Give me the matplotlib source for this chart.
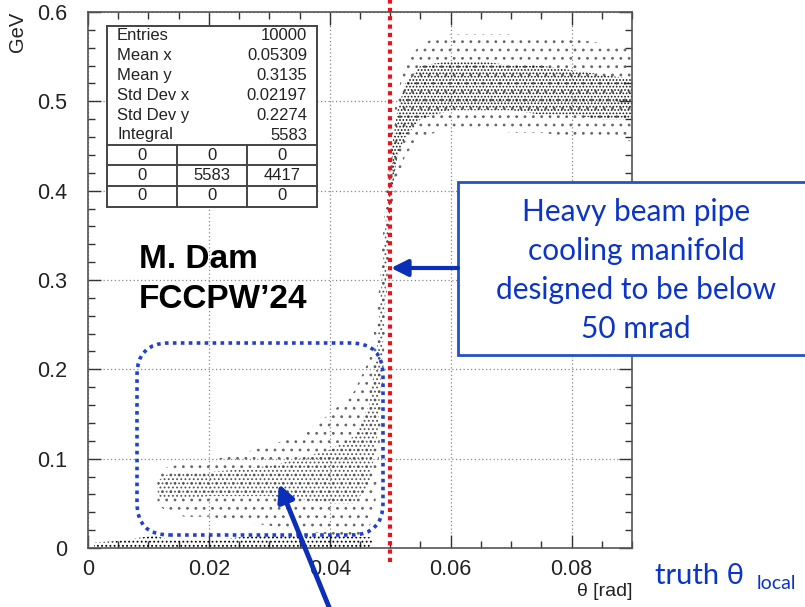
import numpy as np
import matplotlib.pyplot as plt
from matplotlib.patches import FancyBboxPatch, Rectangle, FancyArrowPatch
from matplotlib.ticker import MultipleLocator

plt.rcParams['font.family'] = ['Liberation Sans', 'DejaVu Sans']
plt.rcParams['hatch.linewidth'] = 0.8

# energy vs theta band, read as envelopes (outer spread and dense core)
band_x = [0.0115, 0.013, 0.016, 0.020, 0.025, 0.030, 0.035, 0.040, 0.044, 0.0465,
          0.0478, 0.0486, 0.0492, 0.0497, 0.0503, 0.0512, 0.0525, 0.055, 0.060,
          0.065, 0.070, 0.075, 0.080, 0.085, 0.090]
outer_lo = [0.050, 0.040, 0.035, 0.035, 0.030, 0.025, 0.020, 0.015, 0.012, 0.020,
            0.060, 0.160, 0.250, 0.320, 0.380, 0.410, 0.440, 0.460, 0.470,
            0.470, 0.465, 0.465, 0.460, 0.460, 0.455]
core_lo = [0.058, 0.055, 0.055, 0.058, 0.058, 0.058, 0.055, 0.050, 0.050, 0.070,
           0.120, 0.200, 0.280, 0.350, 0.400, 0.440, 0.460, 0.480, 0.490,
           0.490, 0.490, 0.485, 0.485, 0.480, 0.480]
core_hi = [0.075, 0.082, 0.085, 0.085, 0.088, 0.092, 0.100, 0.110, 0.125, 0.160,
           0.220, 0.300, 0.360, 0.410, 0.450, 0.490, 0.520, 0.540, 0.545,
           0.545, 0.540, 0.540, 0.535, 0.530, 0.525]
outer_hi = [0.082, 0.090, 0.095, 0.098, 0.105, 0.115, 0.125, 0.150, 0.175, 0.210,
            0.260, 0.330, 0.390, 0.430, 0.470, 0.510, 0.540, 0.565, 0.575,
            0.575, 0.575, 0.570, 0.570, 0.565, 0.560]

# hits sitting at almost zero energy
ground_x = [0.001, 0.005, 0.009, 0.011, 0.013, 0.020, 0.025, 0.030, 0.040, 0.047]
ground_hi = [0.006, 0.008, 0.012, 0.014, 0.010, 0.008, 0.012, 0.014, 0.014, 0.012]

stats_names = ['Entries', 'Mean x', 'Mean y', 'Std Dev x', 'Std Dev y', 'Integral']
stats_values = ['10000', '0.05309', '0.3135', '0.02197', '0.2274', '5583']
overflow = [['0', '0', '0'], ['0', '5583', '4417'], ['0', '0', '0']]

cut_theta = 0.050
W, H = 805, 607


def fx(px):
    return px / W


def fy(py):
    return 1 - py / H


fig = plt.figure(figsize=(8.05, 6.07), dpi=100)
ax = fig.add_axes([fx(88), fy(548), 544 / W, 536 / H])
ax.set_xlim(0, 0.09)
ax.set_ylim(0, 0.6)

bx = np.array(band_x)
ax.fill_between(bx, outer_lo, outer_hi, facecolor='none', edgecolor='#666666',
                hatch='..', linewidth=0, zorder=2)
# low band core is lighter than the plateau core
ax.fill_between(bx, core_lo, core_hi, where=bx <= 0.0503, interpolate=True,
                facecolor='none', edgecolor='#555555', hatch='....', linewidth=0, zorder=2)
ax.fill_between(bx, core_lo, core_hi, where=bx >= 0.0503, interpolate=True,
                facecolor='none', edgecolor='#1a1a1a', hatch='.....', linewidth=0, zorder=2)
ax.fill_between(ground_x, 0, ground_hi, facecolor='none', edgecolor='black',
                hatch='....', linewidth=0, zorder=2)

ax.xaxis.set_major_locator(MultipleLocator(0.02))
ax.xaxis.set_minor_locator(MultipleLocator(0.005))
ax.yaxis.set_major_locator(MultipleLocator(0.1))
ax.yaxis.set_minor_locator(MultipleLocator(0.02))
ax.xaxis.set_major_formatter(plt.FuncFormatter(lambda v, p: '0' if v == 0 else f'{v:.2f}'))
ax.yaxis.set_major_formatter(plt.FuncFormatter(lambda v, p: '0' if v == 0 else f'{v:.1f}'))
ax.tick_params(which='both', direction='in', top=True, right=True, width=1.0, colors='#333333')
ax.tick_params(which='major', length=9.5)
ax.tick_params(which='minor', length=5)
ax.tick_params(axis='x', which='major', pad=8, labelsize=15.5, labelcolor='#222222')
ax.tick_params(axis='y', which='major', pad=15, labelsize=15.5, labelcolor='#222222')
ax.grid(True, which='major', linestyle=(0, (1, 2)), color='#888888', linewidth=0.9, zorder=1)
for s in ax.spines.values():
    s.set_color('#555555')
    s.set_linewidth(1.2)

# cut line at 50 mrad, running past the frame
ax.plot([cut_theta, cut_theta], [-0.016, 0.615], color='#e8141a', linestyle=(0, (1, 1)),
        linewidth=3, clip_on=False, zorder=5)

# stats box
sx0, sx1, sy0, sy1 = 107, 317, 26, 207
fig.add_artist(Rectangle((fx(sx0), fy(sy1)), (sx1 - sx0) / W, (sy1 - sy0) / H,
                         transform=fig.transFigure, facecolor='white', edgecolor='#444444',
                         linewidth=1.4, zorder=6))
for i, (n, v) in enumerate(zip(stats_names, stats_values)):
    yy = 36 + i * 19.8
    fig.text(fx(117), fy(yy), n, ha='left', va='center', fontsize=12, color='#222222', zorder=7)
    fig.text(fx(307), fy(yy), v, ha='right', va='center', fontsize=12, color='#222222', zorder=7)
for yl in [145, 165, 186]:
    fig.add_artist(plt.Line2D([fx(sx0), fx(sx1)], [fy(yl), fy(yl)], color='#444444',
                              linewidth=1.4, zorder=7))
for xl in [177, 247]:
    fig.add_artist(plt.Line2D([fx(xl), fx(xl)], [fy(145), fy(sy1)], color='#444444',
                              linewidth=1.4, zorder=7))
col_centres = [142, 212, 282]
row_centres = [155, 175, 196]
for r, row in enumerate(overflow):
    for c, val in enumerate(row):
        fig.text(fx(col_centres[c]), fy(row_centres[r]), val, ha='center', va='center',
                 fontsize=12, color='#222222', zorder=7)

fig.text(fx(139), fy(259), 'M. Dam', ha='left', va='center', fontsize=24, fontweight='bold')
fig.text(fx(139), fy(300), 'FCCPW\u201924', ha='left', va='center', fontsize=24, fontweight='bold')

# region of low energy hits
fig.add_artist(FancyBboxPatch((fx(137), fy(535)), (383 - 137) / W, (535 - 343) / H,
                              boxstyle='round,pad=0,rounding_size=0.04',
                              mutation_aspect=W / H,
                              transform=fig.transFigure, facecolor='none',
                              edgecolor='#1f3fd6', linewidth=2.6,
                              linestyle=(0, (1, 1.2)), zorder=4))

# callout box
fig.add_artist(Rectangle((fx(458), fy(355)), (830 - 458) / W, (355 - 182) / H,
                         transform=fig.transFigure, facecolor='white', edgecolor='#2352c8',
                         linewidth=2, zorder=6))
callout = ['Heavy beam pipe', 'cooling manifold', 'designed to be below', '50 mrad']
for i, line in enumerate(callout):
    fig.text(fx(636), fy(212 + i * 39), line, ha='center', va='center', fontsize=21.5,
             color='#0b35c8', family=['Lato', 'DejaVu Sans'], zorder=7)

fig.add_artist(FancyArrowPatch((fx(458), fy(268)), (fx(391), fy(268)),
                               transform=fig.transFigure, arrowstyle='-|>,head_length=10,head_width=5',
                               color='#0b2fb8', linewidth=3, shrinkA=0, shrinkB=0, zorder=7))
fig.add_artist(FancyArrowPatch((fx(331), fy(612)), (fx(279), fy(484)),
                               transform=fig.transFigure, arrowstyle='-|>,head_length=10,head_width=5',
                               color='#0b2fb8', linewidth=3.5, shrinkA=0, shrinkB=0, zorder=7))

fig.text(fx(18), fy(12), 'GeV', rotation=90, ha='center', va='top', fontsize=14.5, color='#222222')
fig.text(fx(632), fy(592), '\u03b8 [rad]', ha='right', va='center', fontsize=14, color='#222222')
fig.text(fx(655), fy(584), 'truth \u03b8', ha='left', va='baseline', fontsize=21,
         color='#0b35c8', family=['Lato', 'DejaVu Sans'])
fig.text(fx(757), fy(589), 'local', ha='left', va='baseline', fontsize=14,
         color='#0b35c8', family=['Lato', 'DejaVu Sans'])

fig.savefig('out.png', dpi=100)
